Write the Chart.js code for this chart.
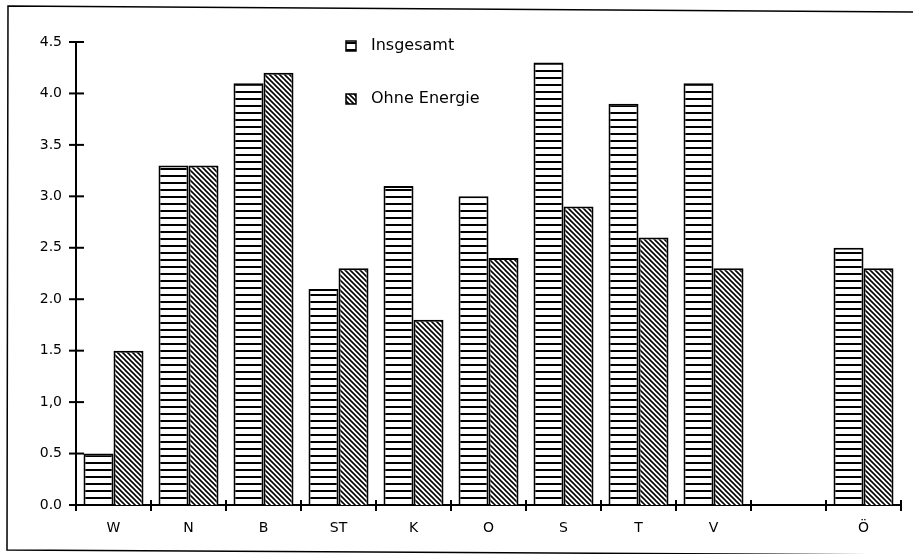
<!DOCTYPE html>
<html>
<head>
<meta charset="utf-8">
<script src="https://cdn.jsdelivr.net/npm/chart.js@4.4.1/dist/chart.umd.min.js"></script>
<style>
  body { margin: 0; background: #fff; }
</style>
</head>
<body>
<canvas id="chart" width="913" height="554"></canvas>
<script>
var categories = ['W', 'N', 'B', 'ST', 'K', 'O', 'S', 'T', 'V', '', 'Ö'];
var insgesamt = [0.5, 3.3, 4.1, 2.1, 3.1, 3.0, 4.3, 3.9, 4.1, null, 2.5];
var ohneEnergie = [1.5, 3.3, 4.2, 2.3, 1.8, 2.4, 2.9, 2.6, 2.3, null, 2.3];
var yTicks = [0, 0.5, 1, 1.5, 2, 2.5, 3, 3.5, 4, 4.5];
var yTickLabels = ['0.0', '0.5', '1,0', '1.5', '2.0', '2.5', '3.0', '3.5', '4.0', '4.5'];
var seriesNames = ['Insgesamt', 'Ohne Energie'];

var ctx = document.getElementById('chart').getContext('2d');

// horizontal stripes
function stripePattern() {
    var c = document.createElement('canvas');
    c.width = 8; c.height = 7;
    var g = c.getContext('2d');
    g.fillStyle = '#fff';
    g.fillRect(0, 0, 8, 7);
    g.fillStyle = '#000';
    g.fillRect(0, 0, 8, 2);
    return ctx.createPattern(c, 'repeat');
}

// diagonal hatching, top-left to bottom-right
function hatchPattern() {
    var s = 5;
    var c = document.createElement('canvas');
    c.width = s; c.height = s;
    var g = c.getContext('2d');
    g.fillStyle = '#fff';
    g.fillRect(0, 0, s, s);
    g.strokeStyle = '#000';
    g.lineWidth = 1.6;
    for (var k = -1; k <= 1; k++) {
        g.beginPath();
        g.moveTo(k * s - 1, -1);
        g.lineTo(k * s + s + 1, s + 1);
        g.stroke();
    }
    return ctx.createPattern(c, 'repeat');
}

var fills = [stripePattern(), hatchPattern()];

var decorations = {
    id: 'decorations',
    afterDraw: function(chart) {
        var c = chart.ctx;
        var area = chart.chartArea;
        var ys = chart.scales.y;
        c.save();
        c.strokeStyle = '#000';
        c.lineWidth = 2;
        // crossing ticks on y axis
        yTicks.forEach(function(v) {
            var y = ys.getPixelForValue(v);
            c.beginPath();
            c.moveTo(area.left - 7, y);
            c.lineTo(area.left + 8, y);
            c.stroke();
        });
        // crossing ticks on x axis at category boundaries
        var n = categories.length;
        var w = (area.right - area.left) / n;
        for (var i = 0; i <= n; i++) {
            var x = area.left + i * w;
            c.beginPath();
            c.moveTo(x, area.bottom - 5);
            c.lineTo(x, area.bottom + 6);
            c.stroke();
        }
        // outer frame
        c.lineWidth = 1.5;
        c.beginPath();
        c.moveTo(913, 12);
        c.lineTo(8, 6);
        c.lineTo(7, 550);
        c.lineTo(913, 555);
        c.stroke();
        // legend
        c.font = '16px "DejaVu Sans"';
        c.textBaseline = 'middle';
        var ly = [46, 99];
        chart.data.datasets.forEach(function(ds, i) {
            c.fillStyle = fills[i];
            c.fillRect(346, ly[i] - 5, 10, 10);
            c.lineWidth = 1.5;
            c.strokeRect(346, ly[i] - 5, 10, 10);
            c.fillStyle = '#000';
            c.fillText(ds.label, 371, ly[i]);
        });
        c.restore();
    }
};

new Chart(ctx, {
    type: 'bar',
    data: {
        labels: categories,
        datasets: [{
            label: seriesNames[0],
            data: insgesamt,
            backgroundColor: fills[0],
            borderColor: '#000',
            borderWidth: 2
        }, {
            label: seriesNames[1],
            data: ohneEnergie,
            backgroundColor: fills[1],
            borderColor: '#000',
            borderWidth: 2
        }]
    },
    options: {
        responsive: false,
        animation: false,
        categoryPercentage: 0.8,
        barPercentage: 1.0,
        layout: { padding: { top: 42, left: 10, right: 12, bottom: 5 } },
        plugins: {
            legend: { display: false },
            tooltip: { enabled: false }
        },
        scales: {
            x: {
                grid: { display: false, drawTicks: false },
                border: { display: true, color: '#000', width: 2 },
                ticks: {
                    color: '#000',
                    font: { family: 'DejaVu Sans', size: 14 },
                    padding: 15,
                    maxRotation: 0,
                    autoSkip: false
                },
                afterFit: function(scale) { scale.height = 44; }
            },
            y: {
                min: 0,
                max: 4.5,
                grid: { display: false, drawTicks: false },
                border: { display: true, color: '#000', width: 2 },
                afterBuildTicks: function(scale) {
                    scale.ticks = yTicks.map(function(v) { return { value: v }; });
                },
                ticks: {
                    color: '#000',
                    font: { family: 'DejaVu Sans', size: 14 },
                    padding: 14,
                    callback: function(value) {
                        var i = yTicks.indexOf(value);
                        return i >= 0 ? yTickLabels[i] : '';
                    }
                },
                afterFit: function(scale) { scale.width = 66; }
            }
        }
    },
    plugins: [decorations]
});
</script>
</body>
</html>
